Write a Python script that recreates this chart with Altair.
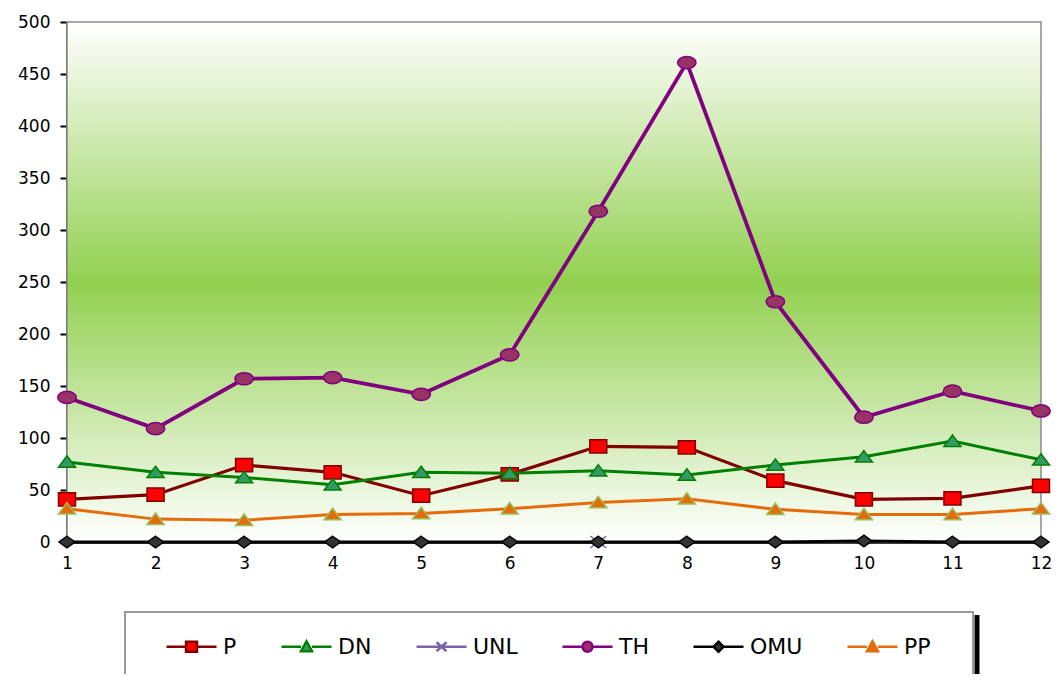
import altair as alt
import pandas as pd

# ---- data ----
months = list(range(1, 13))
series_names = ["P", "DN", "UNL", "TH", "OMU", "PP"]
P = [41, 45.5, 74, 67, 44.5, 65, 92, 91, 59, 41, 42, 54]
DN = [77, 67, 62, 55, 67, 66, 68.5, 64.5, 74, 82, 97, 79]
UNL = [None, None, None, None, None, None, 0, None, None, None, None, None]
TH = [139, 109, 157, 158, 142, 180, 318, 461, 231, 120, 145, 126]
OMU = [0, 0, 0, 0, 0, 0, 0, 0, 0, 1, 0, 0]
PP = [32, 22, 21, 26.5, 27.5, 32, 38, 41.5, 31.5, 26.5, 26.5, 32]
y_ticks = list(range(0, 501, 50))

values_by_series = {"P": P, "DN": DN, "UNL": UNL, "TH": TH, "OMU": OMU, "PP": PP}

# ---- styles ----
line_colors = ["#800000", "#008000", "#7a64a8", "#800080", "#000000", "#e46c0a"]
line_widths = [3.2, 3, 3, 3.8, 3, 3]
marker_fills = ["#ff0000", "#339966", "transparent", "#993366", "#333333", "#e46c0a"]
marker_strokes = ["#800000", "#008000", "#7a64a8", "#800080", "#000000", "#9bbb59"]
marker_paths = [
    "M-1,-0.78H1V0.78H-1Z",
    "M0,-0.72L1,0.62L-1,0.62Z",
    "M-1,-0.75L1,0.75M-1,0.75L1,-0.75",
    "M-1,0A1,0.66 0 1,1 1,0A1,0.66 0 1,1 -1,0Z",
    "M0,-0.72L1,0L0,0.72L-1,0Z",
    "M0,-0.72L1,0.62L-1,0.62Z",
]
marker_sizes = [289, 289, 256, 340, 256, 289]
legend_paths = [
    "M-1,0H-0.22M0.22,0H1M-0.22,-0.2H0.22V0.2H-0.22Z",
    "M-1,0H-0.22M0.22,0H1M0,-0.22L0.22,0.18L-0.22,0.18Z",
    "M-1,0H1M-0.2,-0.18L0.2,0.18M-0.2,0.18L0.2,-0.18",
    "M-1,0H-0.2M0.2,0H1M-0.2,0A0.2,0.2 0 1,1 0.2,0A0.2,0.2 0 1,1 -0.2,0Z",
    "M-1,0H-0.2M0.2,0H1M0,-0.2L0.2,0L0,0.2L-0.2,0Z",
    "M-1,0H-0.22M0.22,0H1M0,-0.22L0.22,0.18L-0.22,0.18Z",
]

rows = []
for s in series_names:
    for m, v in zip(months, values_by_series[s]):
        if v is not None:
            rows.append({"month": m, "value": v, "series": s})
df = pd.DataFrame(rows)

FONT = "DejaVu Sans"

x_enc = alt.X(
    "month:Q",
    scale=alt.Scale(domain=[1, 12], nice=False, zero=False),
    axis=alt.Axis(values=months, format="d", title=None, ticks=False, tickSize=0,
                  labelPadding=13, labelFlush=False, domainColor="black", domainWidth=2.5,
                  labelFont=FONT, labelFontSize=17, labelColor="black", grid=False),
)
y_enc = alt.Y(
    "value:Q",
    scale=alt.Scale(domain=[0, 500], nice=False),
    axis=alt.Axis(values=y_ticks, title=None, tickSize=7, tickWidth=2, tickColor="black",
                  domainColor="black", domainWidth=2.5, labelPadding=10, labelFlush=False,
                  labelFont=FONT, labelFontSize=17, labelColor="black", grid=False),
)

one_row = pd.DataFrame({"k": [0]})

background = alt.Chart(one_row).mark_rect(
    fill=alt.LinearGradient(
        gradient="linear",
        stops=[alt.GradientStop(color="#ffffff", offset=0),
               alt.GradientStop(color="#92d050", offset=0.5),
               alt.GradientStop(color="#ffffff", offset=1)],
        x1=0, x2=0, y1=0, y2=1,
    ),
    stroke="#8c8c8c", strokeWidth=1.5,
).encode(x=alt.value(0), x2=alt.value("width"), y=alt.value(0), y2=alt.value("height"))

layers = [background]
base = alt.Chart(df)
for i, s in enumerate(series_names):
    sub = base.transform_filter(alt.datum.series == s)
    layers.append(
        sub.mark_line(color=line_colors[i], strokeWidth=line_widths[i]).encode(x=x_enc, y=y_enc)
    )
    layers.append(
        sub.mark_point(
            shape=marker_paths[i], size=marker_sizes[i], filled=(s != "UNL"),
            fill=marker_fills[i], stroke=marker_strokes[i], strokeWidth=1.5, opacity=1,
        ).encode(x=x_enc, y=y_enc)
    )

ghost = alt.Chart(df).transform_filter("false").mark_point(
    filled=True, strokeWidth=2.5, opacity=1
).encode(
    shape=alt.Shape("series:N", scale=alt.Scale(domain=series_names, range=legend_paths),
                    legend=alt.Legend(title=None)),
    fill=alt.Fill("series:N", scale=alt.Scale(domain=series_names, range=marker_fills),
                  legend=alt.Legend(title=None)),
    stroke=alt.Stroke("series:N", scale=alt.Scale(domain=series_names, range=line_colors),
                      legend=alt.Legend(title=None)),
)
layers.append(ghost)

legend_frame = alt.Chart(one_row).mark_rect(
    fillOpacity=0, stroke="#999999", strokeWidth=2
).encode(x=alt.value(58), x2=alt.value(906), y=alt.value(590), y2=alt.value(720))
legend_bar = alt.Chart(one_row).mark_rule(color="black", strokeWidth=5).encode(
    x=alt.value(910), y=alt.value(593), y2=alt.value(720)
)
layers += [legend_frame, legend_bar]

chart = alt.layer(*layers).properties(
    width=974, height=520,
    autosize=alt.AutoSizeParams(type="none"),
    padding={"left": 59, "top": 14, "right": 13, "bottom": 132},
    background="white",
).configure_view(stroke=None).configure_legend(
    orient="none", legendX=98, legendY=598, direction="horizontal", columns=6,
    columnPadding=39, labelFont=FONT, labelFontSize=22, labelColor="black",
    labelOffset=5, symbolSize=2500, symbolStrokeWidth=2.5,
    symbolFillColor="transparent", padding=0,
)

chart.save("out.html", embed_options={"renderer": "svg", "actions": False})
